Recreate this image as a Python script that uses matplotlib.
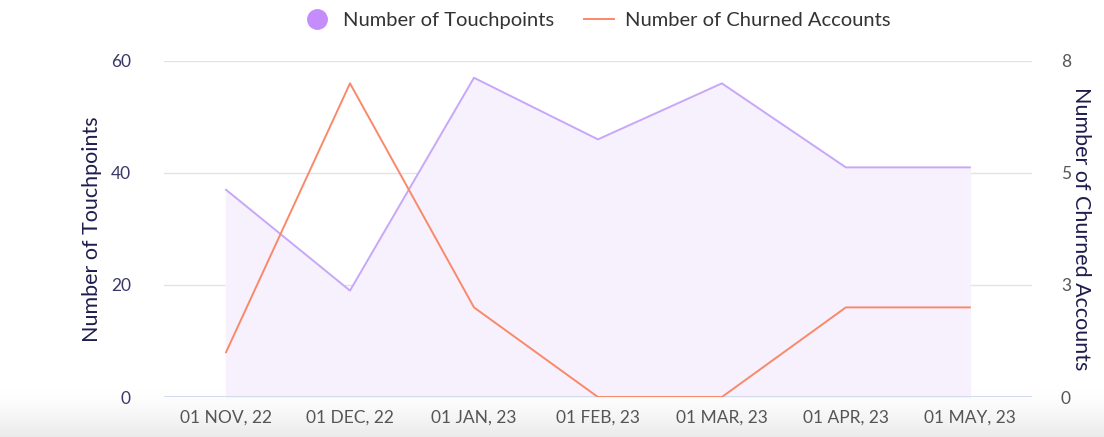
import numpy as np
import matplotlib.pyplot as plt

months = ['01 NOV, 22', '01 DEC, 22', '01 JAN, 23', '01 FEB, 23',
          '01 MAR, 23', '01 APR, 23', '01 MAY, 23']
touchpoints = [37, 19, 57, 46, 56, 41, 41]
churned = [1, 7, 2, 0, 0, 2, 2]

left_ticks = [0, 20, 40, 60]
right_ticks = [0, 2.5, 5, 7.5]
right_labels = ['0', '3', '5', '8']

plt.rcParams['font.family'] = ['Lato', 'DejaVu Sans']

purple = '#c7a8f8'
purple_fill = '#f7f1fd'
orange = '#f9896a'
navy = '#1f1d4e'
gray = '#555555'

fig = plt.figure(figsize=(11.04, 4.37), dpi=100)

# soft shadow at the bottom of the card
bg = fig.add_axes([0, 0, 1, 0.11], zorder=-10)
t = np.linspace(0, 1, 60).reshape(-1, 1, 1)
grad = 1 - 0.08 * t ** 1.5 * np.ones((1, 1, 3))
bg.imshow(grad, aspect='auto', extent=[0, 1, 0, 1])
bg.axis('off')

ax = fig.add_axes([0.1486, 0.0915, 0.786, 0.769])
x = np.arange(len(months))

ax.fill_between(x, 0, touchpoints, color=purple_fill, zorder=1)
ax.plot(x, touchpoints, color=purple, lw=1.4, zorder=3, label='Number of Touchpoints')
ax.set_xlim(-0.5, len(months) - 0.5)
ax.set_ylim(0, 60)
ax.set_yticks(left_ticks)
ax.set_xticks(x)
ax.set_xticklabels(months, fontsize=12.5, color=gray)
ax.tick_params(axis='y', labelsize=12.5, labelcolor='#3a3866', length=0, pad=24)
ax.tick_params(axis='x', length=0, pad=9)
ax.grid(axis='y', color='#e3e3e3', lw=1)
ax.set_axisbelow(True)
for s in ax.spines.values():
    s.set_visible(False)
ax.axhline(0, color='#cdd6ee', lw=1.2, zorder=2)
ax.set_ylabel('Number of Touchpoints', fontsize=15.5, color=navy, labelpad=6)
ax.patch.set_alpha(0)

ax2 = ax.twinx()
ax2.plot(x, churned, color=orange, lw=1.4, zorder=4, label='Number of Churned Accounts')
ax2.set_ylim(0, 7.5)
ax2.set_yticks(right_ticks)
ax2.set_yticklabels(right_labels)
ax2.tick_params(axis='y', labelsize=12.5, labelcolor=gray, length=0, pad=21)
for s in ax2.spines.values():
    s.set_visible(False)
ax2.set_ylabel('Number of Churned Accounts', fontsize=15.5, color=navy,
               rotation=270, labelpad=14)

h1 = plt.Line2D([], [], marker='o', ls='none', color='#c48dfb', markersize=14)
h2 = plt.Line2D([], [], color=orange, lw=1.4)
fig.legend([h1, h2], ['Number of Touchpoints', 'Number of Churned Accounts'],
           loc='upper center', bbox_to_anchor=(0.54, 1.015), ncol=2, frameon=False,
           fontsize=14.5, labelcolor='#333333', handlelength=1.5, columnspacing=1.5,
           handletextpad=0.55)

fig.savefig('out.png', dpi=100)
